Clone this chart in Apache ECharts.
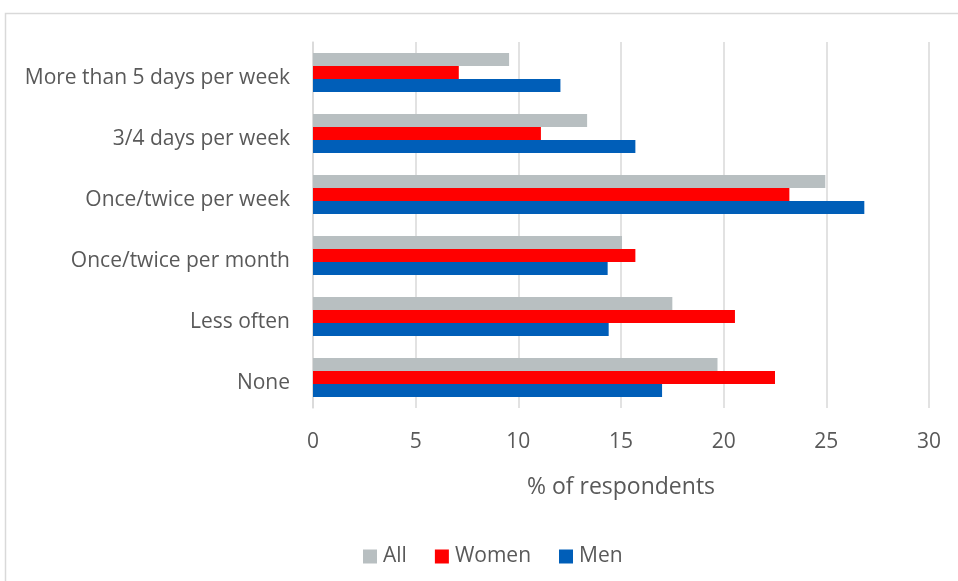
<!DOCTYPE html>
<html>
<head>
<meta charset="utf-8">
<script src="https://cdn.jsdelivr.net/npm/echarts@6/dist/echarts.min.js"></script>
<style>
  html, body { margin: 0; padding: 0; background: #fff; }
  #chart { width: 958px; height: 581px; }
</style>
</head>
<body>
<div id="chart"></div>
<script>
// categories from bottom to top (Excel order)
const categories = ['None', 'Less often', 'Once/twice per month', 'Once/twice per week', '3/4 days per week', 'More than 5 days per week']
const allValues = [19.7, 17.5, 15.05, 24.95, 13.35, 9.55]
const womenValues = [22.5, 20.55, 15.7, 23.2, 11.1, 7.1]
const menValues = [17.0, 14.4, 14.35, 26.85, 15.7, 12.05]
const xTicks = [0, 5, 10, 15, 20, 25, 30]

let myChart = echarts.init(document.getElementById('chart'))

const font = 'Open Sans'
const textColor = '#595959'

let options = {
  animation: false,
  textStyle: { fontFamily: font },
  color: ['#b8bfc1', '#ff0000', '#005eb8'],
  graphic: [
    {
      type: 'rect',
      shape: { x: 5.5, y: 13.5, width: 1000, height: 1000 },
      style: { fill: 'none', stroke: '#d9d9d9', lineWidth: 1.5 }
    }
  ],
  legend: {
    data: ['All', 'Women', 'Men'],
    top: 541,
    left: 358,
    icon: 'rect',
    itemWidth: 14,
    itemHeight: 14,
    itemGap: 28,
    itemStyle: { borderWidth: 0 },
    textStyle: { color: textColor, fontSize: 21, fontFamily: font, padding: [0, 0, 0, 1] }
  },
  grid: {
    left: 313,
    right: 29,
    top: 42,
    bottom: 173
  },
  xAxis: {
    type: 'value',
    min: xTicks[0],
    max: xTicks[xTicks.length - 1],
    interval: 5,
    name: '% of respondents',
    nameLocation: 'middle',
    nameGap: 68,
    nameTextStyle: { color: textColor, fontSize: 23, fontFamily: font },
    axisLine: { show: false },
    axisTick: { show: false },
    axisLabel: { color: textColor, fontSize: 21, margin: 24, fontFamily: font },
    splitLine: { show: true, lineStyle: { color: '#d9d9d9', width: 1.5 } }
  },
  yAxis: {
    type: 'category',
    data: categories,
    axisLine: { show: true, lineStyle: { color: '#d9d9d9', width: 1.5 } },
    axisTick: { show: false },
    axisLabel: {
      margin: 23,
      // push the text a little below the band centre, like the original
      formatter: (v) => '{a|' + v + '}',
      rich: {
        a: { color: textColor, fontSize: 21, fontFamily: font, padding: [12, 0, 0, 0] }
      }
    }
  },
  series: [
    { name: 'All', type: 'bar', barWidth: 13, barGap: '0%', data: allValues },
    { name: 'Women', type: 'bar', barWidth: 13, barGap: '0%', data: womenValues },
    { name: 'Men', type: 'bar', barWidth: 13, barGap: '0%', data: menValues }
  ]
}
myChart.setOption(options)
</script>
</body>
</html>
